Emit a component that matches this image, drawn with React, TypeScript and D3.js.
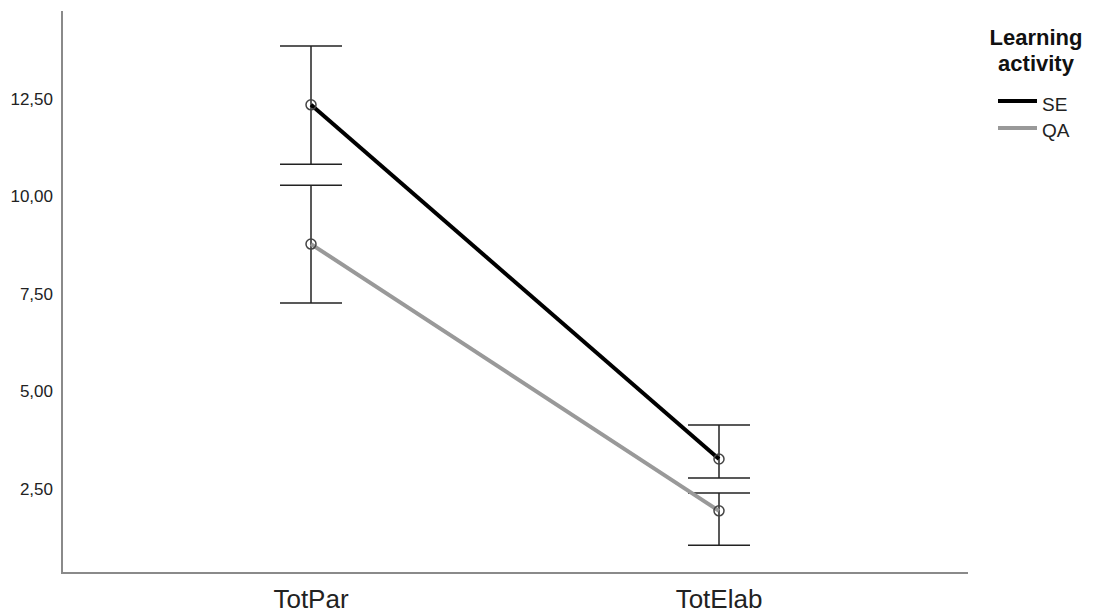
import React from "react";
import * as d3 from "d3";

const categories = ["TotPar", "TotElab"];
const seriesNames = ["SE", "QA"];
const seriesColors = ["#000000", "#999999"];
const seMeans = [12.35, 3.27];
const seLower = [10.83, 2.78];
const seUpper = [13.86, 4.14];
const qaMeans = [8.78, 1.94];
const qaLower = [7.27, 1.06];
const qaUpper = [10.29, 2.40];
const yTicks = [2.5, 5, 7.5, 10, 12.5];

const W = 1099;
const H = 613;

export default function App() {
  const y = d3.scaleLinear().domain([0, 2.5]).range([586.5, 489]);
  const x = d3.scalePoint<string>().domain(categories).range([311, 719]);
  const fmt = (v: number) => v.toFixed(2).replace(".", ",");
  const series = [
    { name: seriesNames[0], color: seriesColors[0], m: seMeans, lo: seLower, hi: seUpper },
    { name: seriesNames[1], color: seriesColors[1], m: qaMeans, lo: qaLower, hi: qaUpper },
  ];
  const line = d3
    .line<number>()
    .x((_, i) => x(categories[i])!)
    .y((d) => y(d));
  const capW = 31;
  return (
    <svg
      width={W}
      height={H}
      style={{ position: "absolute", left: 0, top: 0, background: "#fff" }}
      fontFamily="Arial, 'Liberation Sans', sans-serif"
    >
      <rect width={W} height={H} fill="#fff" />
      {/* axes */}
      <line x1={62} x2={62} y1={11} y2={574} stroke="#8a8a8a" strokeWidth={2} />
      <line x1={61} x2={968} y1={573} y2={573} stroke="#8a8a8a" strokeWidth={2} />
      {yTicks.map((t) => (
        <text key={t} x={53} y={y(t)} dy="0.35em" textAnchor="end" fontSize={17} fill="#222">
          {fmt(t)}
        </text>
      ))}
      {categories.map((c) => (
        <text key={c} x={x(c)} y={608} textAnchor="middle" fontSize={26} fill="#222">
          {c}
        </text>
      ))}
      {/* error bars */}
      {series.map((s) =>
        categories.map((c, i) => (
          <g key={s.name + c} stroke="#222" strokeWidth={1.5}>
            <line x1={x(c)} x2={x(c)} y1={y(s.lo[i])} y2={y(s.hi[i])} />
            <line x1={x(c)! - capW} x2={x(c)! + capW} y1={y(s.lo[i])} y2={y(s.lo[i])} />
            <line x1={x(c)! - capW} x2={x(c)! + capW} y1={y(s.hi[i])} y2={y(s.hi[i])} />
          </g>
        ))
      )}
      {/* lines */}
      {series.map((s) => (
        <path key={s.name} d={line(s.m)!} fill="none" stroke={s.color} strokeWidth={4} />
      ))}
      {/* markers */}
      {series.map((s) =>
        categories.map((c, i) => (
          <circle
            key={s.name + c + "p"}
            cx={x(c)}
            cy={y(s.m[i])}
            r={5}
            fill="none"
            stroke="#444"
            strokeWidth={1.5}
          />
        ))
      )}
      {/* legend */}
      <text x={1036} y={45} textAnchor="middle" fontSize={22} fontWeight="bold" fill="#111">
        Learning
      </text>
      <text x={1036} y={71} textAnchor="middle" fontSize={22} fontWeight="bold" fill="#111">
        activity
      </text>
      {series.map((s, i) => (
        <g key={s.name + "leg"}>
          <line x1={998} x2={1037} y1={101 + i * 27} y2={101 + i * 27} stroke={s.color} strokeWidth={4} />
          <text x={1042} y={104 + i * 26} dy="0.35em" fontSize={19} fill="#222">
            {s.name}
          </text>
        </g>
      ))}
    </svg>
  );
}
